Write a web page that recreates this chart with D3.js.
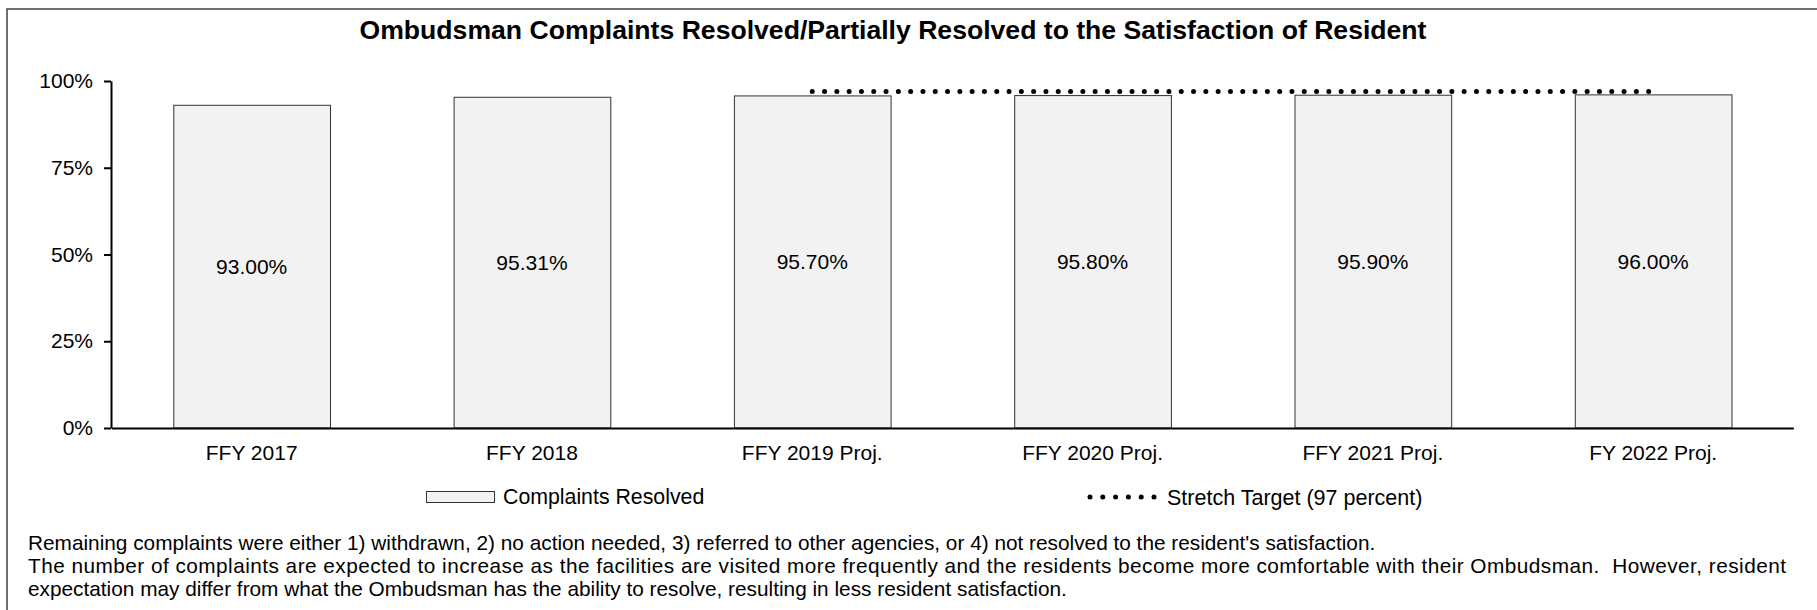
<!DOCTYPE html>
<html>
<head>
<meta charset="utf-8">
<script src="https://cdn.jsdelivr.net/npm/d3@7"></script>
<style>
  html, body { margin: 0; padding: 0; background: #fff; }
  svg { display: block; font-family: Arial, "Liberation Sans", sans-serif; }
</style>
</head>
<body>
<svg id="chart" width="1817" height="610"></svg>
<script>
const title = "Ombudsman Complaints Resolved/Partially Resolved to the Satisfaction of Resident";
const categories = ["FFY 2017", "FFY 2018", "FFY 2019 Proj.", "FFY 2020 Proj.", "FFY 2021 Proj.", "FY 2022 Proj."];
const resolvedValues = [93.00, 95.31, 95.70, 95.80, 95.90, 96.00];
const targetCategories = ["FFY 2019 Proj.", "FFY 2020 Proj.", "FFY 2021 Proj.", "FY 2022 Proj."];
const targetValues = [97, 97, 97, 97];
const yTicks = [0, 25, 50, 75, 100];
const seriesNames = ["Complaints Resolved", "Stretch Target (97 percent)"];
const footnotes = [
  "Remaining complaints were either 1) withdrawn, 2) no action needed, 3) referred to other agencies, or 4) not resolved to the resident's satisfaction.",
  "The number of complaints are expected to increase as the facilities are visited more frequently and the residents become more comfortable with their Ombudsman.  However, resident",
  "expectation may differ from what the Ombudsman has the ability to resolve, resulting in less resident satisfaction."
];

const svg = d3.select("#chart");

// outer frame
svg.append("rect")
  .attr("x", 7).attr("y", 9).attr("width", 1830).attr("height", 620)
  .attr("fill", "none").attr("stroke", "#404040").attr("stroke-width", 1.5);

// title
svg.append("text")
  .attr("x", 893).attr("y", 30).attr("dy", "0.35em")
  .attr("text-anchor", "middle")
  .attr("font-size", 26.6).attr("font-weight", "bold").attr("fill", "#000")
  .text(title);

const x = d3.scaleBand().domain(categories).range([111.5, 1793.3])
  .paddingInner(0.441).paddingOuter(0.2205);
const y = d3.scaleLinear().domain([0, 100]).range([428, 81]);

// bars
svg.append("g").selectAll("rect").data(categories).join("rect")
  .attr("x", d => x(d) + 0.5)
  .attr("y", (d, i) => y(resolvedValues[i]))
  .attr("width", x.bandwidth())
  .attr("height", (d, i) => y(0) - y(resolvedValues[i]))
  .attr("fill", "#f2f2f2").attr("stroke", "#333").attr("stroke-width", 1);

// bar labels
svg.append("g").selectAll("text").data(categories).join("text")
  .attr("x", d => x(d) + x.bandwidth() / 2)
  .attr("y", (d, i) => (y(resolvedValues[i]) + y(0)) / 2)
  .attr("dy", "0.35em").attr("text-anchor", "middle")
  .attr("font-size", 21).attr("fill", "#000")
  .text((d, i) => resolvedValues[i].toFixed(2) + "%");

// target dotted line
const line = d3.line()
  .x(d => x(d.c) + x.bandwidth() / 2)
  .y(d => y(d.v));
svg.append("path")
  .datum(targetCategories.map((c, i) => ({c, v: targetValues[i]})))
  .attr("d", line)
  .attr("fill", "none").attr("stroke", "#000")
  .attr("stroke-width", 5).attr("stroke-linecap", "round")
  .attr("stroke-dasharray", "0 12.3");

// y axis
const yAxis = svg.append("g").attr("transform", "translate(111,0)")
  .call(d3.axisLeft(y).tickValues(yTicks).tickFormat(d => d + "%")
    .tickSizeInner(7).tickSizeOuter(0).tickPadding(11));
yAxis.select(".domain").attr("stroke", "#000").attr("stroke-width", 2);
yAxis.selectAll(".tick line").attr("stroke", "#000").attr("stroke-width", 2);
yAxis.selectAll(".tick text").attr("font-size", 21).attr("fill", "#000")
  .attr("font-family", "Arial, 'Liberation Sans', sans-serif");

// x axis
const xAxis = svg.append("g").attr("transform", "translate(0,428)")
  .call(d3.axisBottom(x).tickSize(0).tickPadding(17));
xAxis.select(".domain").attr("stroke", "#000").attr("stroke-width", 2);
xAxis.selectAll(".tick text").attr("font-size", 21).attr("fill", "#000")
  .attr("font-family", "Arial, 'Liberation Sans', sans-serif");

// legend
const lg = svg.append("g");
lg.append("rect").attr("x", 426.5).attr("y", 491.5).attr("width", 68).attr("height", 11)
  .attr("fill", "#f2f2f2").attr("stroke", "#333").attr("stroke-width", 1);
lg.append("text").attr("x", 503).attr("y", 497).attr("dy", "0.35em")
  .attr("font-size", 21.3).attr("fill", "#000").text(seriesNames[0]);
lg.append("line").attr("x1", 1090).attr("x2", 1155).attr("y1", 497).attr("y2", 497)
  .attr("stroke", "#000").attr("stroke-width", 5).attr("stroke-linecap", "round")
  .attr("stroke-dasharray", "0 12.8");
lg.append("text").attr("x", 1167).attr("y", 497).attr("dy", "0.35em")
  .attr("font-size", 21.5).attr("fill", "#000").text(seriesNames[1]);

// footnotes
svg.append("g").selectAll("text").data(footnotes).join("text")
  .attr("x", 28).attr("y", (d, i) => 543 + i * 23).attr("dy", "0.35em")
  .attr("font-size", 20.8).attr("fill", "#000")
  .style("white-space", "pre")
  .each(function(d, i) {
    if (i === 1) d3.select(this).attr("textLength", 1758).attr("lengthAdjust", "spacing");
  })
  .text(d => d);
</script>
</body>
</html>
